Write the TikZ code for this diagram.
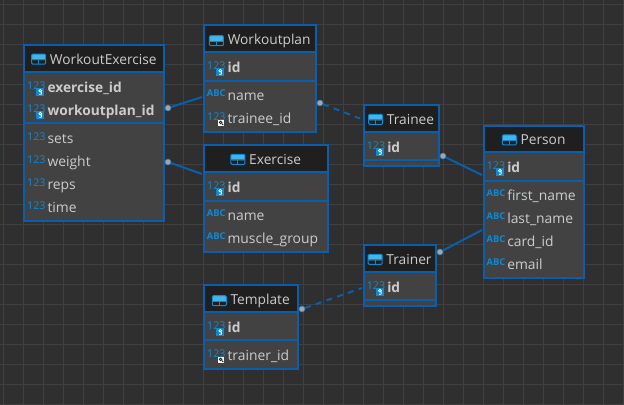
\documentclass[tikz,border=0pt]{standalone}
\usepackage{fontspec}
\setmainfont{Open Sans}
\definecolor{bgc}{HTML}{2F2F2F}
\definecolor{gridc}{HTML}{404040}
\definecolor{bodyc}{HTML}{424242}
\definecolor{headc}{HTML}{1F1F1F}
\definecolor{edgec}{HTML}{0A5FAD}
\definecolor{iconc}{HTML}{0C8AD6}
\definecolor{iconl}{HTML}{45B4E8}
\definecolor{textc}{HTML}{CCCCCC}
\definecolor{dotc}{HTML}{A0A6AC}
\tikzset{
  tablebox/.style={draw=edgec,fill=bodyc,line width=1.5pt,inner sep=0pt,rectangle},
  titletext/.style={text=textc,font=\fontsize{10.3}{12}\selectfont,inner sep=0pt,anchor=base},
  coltext/.style={text=textc,font=\fontsize{10.4}{12}\selectfont,anchor=base west,inner sep=0pt},
  pktext/.style={coltext,font=\fontsize{10.3}{12}\selectfont\bfseries},
  numtag/.style={text=iconc,font=\fontsize{8}{8}\selectfont,inner sep=0pt},
  abctag/.style={text=iconc,font=\fontsize{7}{8}\selectfont\bfseries,inner sep=0pt},
  link/.style={draw=edgec,line width=1.5pt},
  dashlink/.style={link,dash pattern=on 4.5pt off 4pt},
  enddot/.style={circle,fill=dotc,draw=edgec!70!dotc,line width=0.4pt,minimum size=4.5pt,inner sep=0pt},
}
% name, x0, y0, x1, y1, header bottom, section line, title
\newcommand{\tbl}[8]{%
  \pgfmathsetlengthmacro{\tw}{(#4-#2)*0.75pt}%
  \pgfmathsetlengthmacro{\th}{(#5-#3)*0.75pt}%
  \node[tablebox,minimum width=\tw,minimum height=\th] (#1) at ({(#2+#4)/2},{(#3+#5)/2}) {};
  \fill[headc] (#2,#3) rectangle (#4,#6);
  \draw[edgec,line width=0.8pt] (#2,#6) -- (#4,#6);
  \draw[edgec,line width=0.8pt] (#2,#7) -- (#4,#7);
  \draw[edgec,line width=1.5pt] (#2,#3) rectangle (#4,#5);
  \node[titletext] (#1title) at ({(#2+#4)/2+9},{(#3+#6)/2+5.8}) {#8};
  \begin{scope}[shift={(#1title.west)}]
    \fill[iconl,rounded corners=0.8pt] (-18,-5) rectangle (-4,1);
    \draw[iconc,line width=0.75pt,rounded corners=0.8pt] (-18,-5) rectangle (-4,5);
    \draw[iconc,line width=0.75pt] (-18,0.5) -- (-4,0.5) (-11,0.5) -- (-11,5);
  \end{scope}
}
\newcommand{\keybadge}[2]{%
  \fill[iconc] ({#1+12},{#2}) rectangle ({#1+20},{#2+8});
  \draw[white,line width=0.6pt] ({#1+16},{#2+2.7}) circle (1.4);
  \draw[white,line width=0.6pt] ({#1+17.2},{#2+3.5}) -- ({#1+17.2},{#2+6}) -- ({#1+15},{#2+6.4});
}
\newcommand{\fkbadge}[2]{%
  \fill[white] ({#1+14},{#2+1}) rectangle ({#1+20},{#2+7});
  \draw[bgc!60!black,line width=0.6pt] ({#1+16.4},{#2+3.4}) circle (1.3);
  \draw[bgc!60!black,line width=0.6pt] ({#1+17.4},{#2+4.4}) -- ({#1+19},{#2+6});
}
% name, x0, y, text
\newcommand{\rowpk}[4]{%
  \node[numtag] at ({#2+12},{#3-2.5}) {123};
  \keybadge{#2}{#3}
  \node[pktext] (#1) at ({#2+23},{#3+4.6}) {#4};
}
\newcommand{\rownum}[4]{%
  \node[numtag] at ({#2+12},{#3-2.5}) {123};
  \node[coltext] (#1) at ({#2+23},{#3+4.6}) {#4};
}
\newcommand{\rowfk}[4]{%
  \node[numtag] at ({#2+12},{#3-2.5}) {123};
  \fkbadge{#2}{#3}
  \node[coltext] (#1) at ({#2+23},{#3+4.6}) {#4};
}
\newcommand{\rowabc}[4]{%
  \node[abctag] at ({#2+12},{#3-2.5}) {ABC};
  \node[coltext] (#1) at ({#2+23},{#3+4.6}) {#4};
}
\begin{document}
\begin{tikzpicture}[x=0.75pt,y=-0.75pt]
\useasboundingbox (0,0) rectangle (624,404);
\fill[bgc] (0,0) rectangle (624,404);
\foreach \gx in {3.5,23.5,...,624} \draw[gridc,line width=0.75pt] (\gx,0) -- (\gx,404);
\foreach \gy in {4,24,...,404} \draw[gridc,line width=0.75pt] (0,\gy) -- (624,\gy);

\tbl{we}{24.3}{45}{164.3}{221}{72}{123}{WorkoutExercise}
\rowpk{wea}{24.3}{88}{exercise\_id}
\rowpk{web}{24.3}{111}{workoutplan\_id}
\rownum{wec}{24.3}{139}{sets}
\rownum{wed}{24.3}{162}{weight}
\rownum{wee}{24.3}{185}{reps}
\rownum{wef}{24.3}{208}{time}

\tbl{wp}{204.3}{25}{316}{132}{52}{81}{Workoutplan}
\rowpk{wpa}{204.3}{68}{id}
\rowabc{wpb}{204.3}{96}{name}
\rowfk{wpc}{204.3}{119}{trainee\_id}

\tbl{ex}{204.3}{145}{328}{252}{172}{201}{Exercise}
\rowpk{exa}{204.3}{188}{id}
\rowabc{exb}{204.3}{216}{name}
\rowabc{exc}{204.3}{239}{muscle\_group}

\tbl{tn}{364}{105}{439}{166}{132}{160}{Trainee}
\rowpk{tna}{364}{148}{id}

\tbl{pe}{484}{126}{584}{278}{152}{181}{Person}
\rowpk{pea}{484}{168}{id}
\rowabc{peb}{484}{196}{first\_name}
\rowabc{pec}{484}{219}{last\_name}
\rowabc{ped}{484}{242}{card\_id}
\rowabc{pee}{484}{265}{email}

\tbl{tr}{364}{245}{436}{306}{272}{300}{Trainer}
\rowpk{tra}{364}{288}{id}

\tbl{tp}{204.3}{285}{298}{369}{312}{340}{Template}
\rowpk{tpa}{204.3}{328}{id}
\rowfk{tpb}{204.3}{356}{trainer\_id}

\node[enddot] (d1) at (168,108) {};
\node[enddot] (d2) at (168,162) {};
\node[enddot] (d3) at (320,103) {};
\node[enddot] (d4) at (443,156) {};
\node[enddot] (d5) at (440,252) {};
\node[enddot] (d6) at (302,309) {};
\coordinate (e1) at (202,97);
\coordinate (e2) at (202,174);
\coordinate (e3) at (360,118.5);
\coordinate (e4) at (482,175);
\coordinate (e5) at (482,230);
\coordinate (e6) at (362,288);
\draw[link] (d1) -- (e1);
\draw[link] (d2) -- (e2);
\draw[dashlink] (d3) -- (e3);
\draw[link] (d4) -- (e4);
\draw[link] (d5) -- (e5);
\draw[dashlink] (d6) -- (e6);
\end{tikzpicture}
\end{document}
